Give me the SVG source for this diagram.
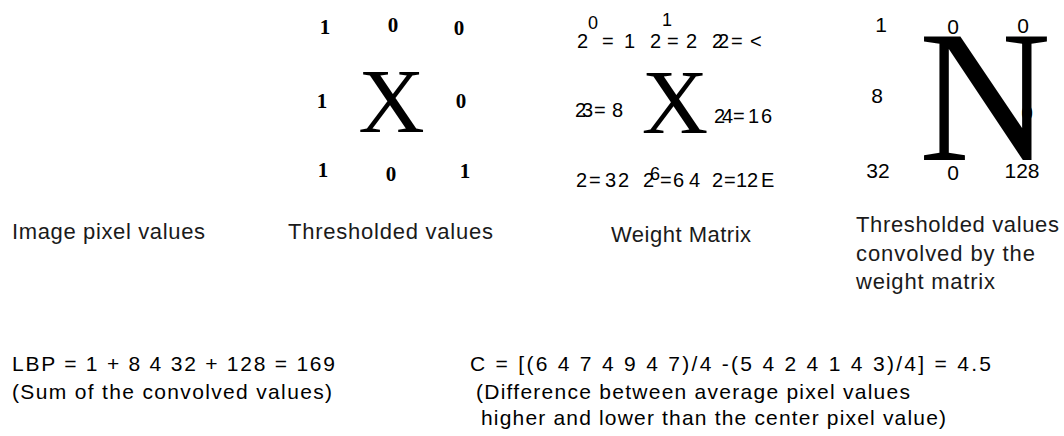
<svg xmlns="http://www.w3.org/2000/svg" width="1064" height="436" viewBox="0 0 1064 436">
<style>
.tb{font-family:"Liberation Serif","Times New Roman",serif;font-weight:bold;font-size:21px;text-anchor:middle;fill:#000}
.big{font-family:"Liberation Serif","Times New Roman",serif;font-size:92px;text-anchor:middle;fill:#000}
.huge{font-family:"Liberation Serif","Times New Roman",serif;font-size:189px;text-anchor:middle;fill:#000}
.s{font-family:"Liberation Sans",Arial,sans-serif;font-size:20px;fill:#000}
.sup{font-family:"Liberation Sans",Arial,sans-serif;font-size:18px;fill:#000}
.r{font-family:"Liberation Sans",Arial,sans-serif;font-size:21px;text-anchor:middle;fill:#000}
.lbl{font-family:"Liberation Sans",Arial,sans-serif;font-size:22px;fill:#1a1a1a}
.f{font-family:"Liberation Sans",Arial,sans-serif;font-size:21px;fill:#000}
</style>
<rect width="1064" height="436" fill="#fff"/>
<g id="image-pixel-values">
<text class="lbl" x="12" y="239" textLength="193" lengthAdjust="spacing">Image pixel values</text>
</g>
<g id="thresholded-values">
<text class="tb" x="325" y="34">1</text>
<text class="tb" x="393" y="32">0</text>
<text class="tb" x="459" y="35">0</text>
<text class="tb" x="322" y="108">1</text>
<text class="big" x="391.5" y="132">X</text>
<text class="tb" x="461" y="108">0</text>
<text class="tb" x="323" y="177">1</text>
<text class="tb" x="391" y="181">0</text>
<text class="tb" x="465" y="178">1</text>
<text class="lbl" x="288" y="239" textLength="205" lengthAdjust="spacing">Thresholded values</text>
</g>
<g id="weight-matrix">
<text class="s" x="577" y="48">2</text>
<text class="sup" x="588" y="29">0</text>
<text class="s" x="602" y="48">=</text>
<text class="s" x="624" y="48">1</text>
<text class="s" x="650" y="48">2</text>
<text class="sup" x="662" y="26">1</text>
<text class="s" x="667" y="48">=</text>
<text class="s" x="686" y="48">2</text>
<text class="s" x="712" y="48">2</text>
<text class="s" x="718" y="48">2</text>
<text class="s" x="731" y="48">=</text>
<text class="s" x="750" y="48">&lt;</text>
<text class="s" x="575" y="117">2</text>
<text class="s" x="582" y="117">3</text>
<text class="s" x="594" y="117">=</text>
<text class="s" x="612" y="117">8</text>
<text class="big" x="675" y="133">X</text>
<text class="s" x="714" y="123">2</text>
<text class="s" x="722" y="123">4</text>
<text class="s" x="733" y="123">=</text>
<text class="s" x="748" y="123">1</text>
<text class="s" x="761" y="123">6</text>
<text class="s" x="576" y="187">2</text>
<text class="s" x="589" y="187">=</text>
<text class="s" x="605" y="187">3</text>
<text class="s" x="618" y="187">2</text>
<text class="s" x="643" y="187">2</text>
<text class="sup" x="650" y="180">6</text>
<text class="s" x="660" y="187">=</text>
<text class="s" x="673" y="187">6</text>
<text class="s" x="689" y="187">4</text>
<text class="s" x="712" y="187">2</text>
<text class="s" x="724" y="187">=</text>
<text class="s" x="736" y="187">1</text>
<text class="s" x="747" y="187">2</text>
<text class="s" x="761" y="187">E</text>
<text class="lbl" x="611" y="242" textLength="140" lengthAdjust="spacing">Weight Matrix</text>
</g>
<g id="convolved-values">
<text class="r" x="1027" y="120">0</text>
<text class="huge" transform="translate(985,160) scale(0.97,1)" x="0" y="0">N</text>
<text class="r" x="881" y="32">1</text>
<text class="r" x="953" y="34">0</text>
<text class="r" x="1023" y="33">0</text>
<text class="r" x="877" y="103">8</text>
<text class="r" x="878" y="178">32</text>
<text class="r" x="953" y="180">0</text>
<text class="r" x="1022" y="178">128</text>
<text class="lbl" x="856" y="232" textLength="203" lengthAdjust="spacing">Thresholded values</text>
<text class="lbl" x="856" y="261" textLength="179" lengthAdjust="spacing">convolved by the</text>
<text class="lbl" x="856" y="289" textLength="139" lengthAdjust="spacing">weight matrix</text>
</g>
<g id="lbp-formula">
<text class="f" x="12" y="371" textLength="323" lengthAdjust="spacing">LBP = 1 + 8 4 32 + 128 = 169</text>
<text class="f" x="12" y="399" textLength="320" lengthAdjust="spacing">(Sum of the convolved values)</text>
</g>
<g id="contrast-formula">
<text class="f" x="470" y="371" textLength="521" lengthAdjust="spacing">C = [(6 4 7 4 9 4 7)/4 -(5 4 2 4 1 4 3)/4] = 4.5</text>
<text class="f" x="476" y="399" textLength="434" lengthAdjust="spacing">(Difference between average pixel values</text>
<text class="f" x="481" y="425" textLength="465" lengthAdjust="spacing">higher and lower than the center pixel value)</text>
</g>
<g id="connectors"/>
</svg>
